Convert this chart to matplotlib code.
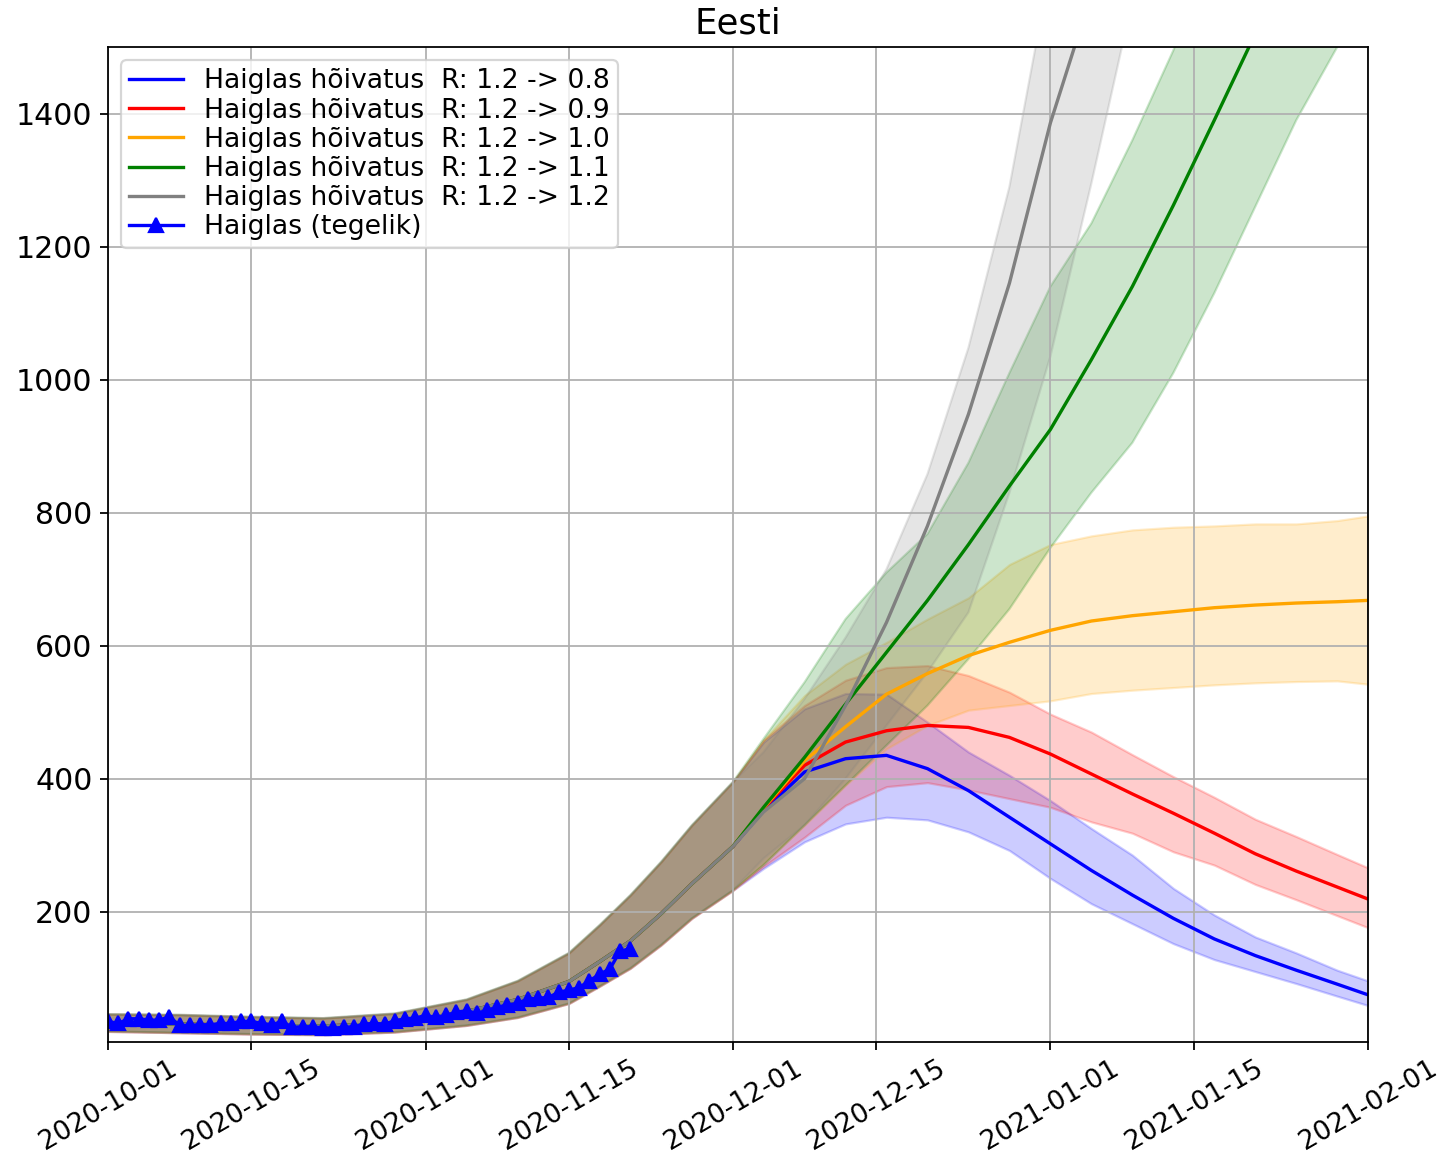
import matplotlib
matplotlib.use("Agg")
import matplotlib.pyplot as plt
import pandas as pd

# observed hospital occupancy, one value per day starting 2020-10-01
actual_start = "2020-10-01"
actual_values = [35, 32, 39, 39, 37, 37, 42, 29, 29, 30, 30, 32, 32, 35, 35, 32,
                 30, 35, 26, 27, 27, 25, 25, 26, 27, 31, 32, 31, 36, 39, 40, 44,
                 41, 44, 49, 51, 47, 52, 56, 60, 62, 69, 70, 71, 79, 82, 86, 96,
                 106, 114, 141, 144]

# shared model fit up to 2020-12-01 (all scenarios identical)
trunk_dates = ["2020-10-01", "2020-10-08", "2020-10-15", "2020-10-22", "2020-10-29",
               "2020-11-05", "2020-11-10", "2020-11-15", "2020-11-18", "2020-11-21",
               "2020-11-24", "2020-11-27", "2020-12-01"]
trunk_mid = [33, 31, 29, 28, 32, 50, 68, 95, 125, 156, 197, 242, 298]
trunk_lo = [20, 18, 16, 15, 19, 29, 41, 62, 88, 115, 150, 190, 232]
trunk_hi = [46, 45, 42, 40, 47, 68, 96, 138, 180, 225, 275, 330, 395]

# scenario projections after the split
proj_dates = ["2020-12-04", "2020-12-08", "2020-12-12", "2020-12-16", "2020-12-20",
              "2020-12-24", "2020-12-28", "2021-01-01", "2021-01-05", "2021-01-09",
              "2021-01-13", "2021-01-17", "2021-01-21", "2021-01-25", "2021-01-29",
              "2021-02-01"]

r08_mid = [352, 410, 430, 435, 415, 382, 342, 302, 262, 225, 190, 159, 134, 112, 91, 75]
r08_lo = [265, 305, 332, 342, 338, 320, 292, 250, 212, 182, 152, 128, 110, 92, 73, 59]
r08_hi = [455, 505, 528, 527, 485, 440, 405, 367, 325, 285, 235, 195, 162, 138, 112, 96]

r09_mid = [355, 420, 455, 472, 480, 477, 462, 437, 407, 377, 348, 318, 287, 261, 237, 219]
r09_lo = [268, 312, 360, 388, 394, 383, 370, 357, 335, 318, 290, 270, 241, 218, 194, 176]
r09_hi = [458, 510, 548, 567, 570, 555, 530, 497, 470, 436, 403, 372, 339, 313, 286, 266]

r10_mid = [356, 427, 478, 527, 558, 585, 605, 623, 637, 645, 651, 657, 661, 664, 666, 668]
r10_lo = [272, 330, 390, 445, 480, 503, 510, 517, 528, 533, 537, 541, 544, 546, 547, 542]
r10_hi = [458, 525, 572, 605, 640, 672, 722, 752, 765, 774, 778, 780, 783, 783, 788, 795]

r11_mid = [357, 432, 512, 590, 668, 752, 840, 925, 1030, 1140, 1262, 1390, 1520, 1680, 1850, 1990]
r11_lo = [270, 330, 390, 450, 510, 580, 655, 747, 830, 905, 1010, 1130, 1260, 1390, 1500, 1580]
r11_hi = [460, 545, 640, 710, 768, 875, 1010, 1140, 1235, 1360, 1495, 1640, 1800, 1970, 2150, 2290]

r12_mid = [350, 400, 510, 635, 780, 948, 1145, 1386, 1580, 1810, 2070, 2360, 2690, 3060, 3480, 3830]
r12_lo = [280, 330, 400, 480, 560, 650, 830, 1035, 1295, 1570, 1850, 2150, 2480, 2850, 3250, 3600]
r12_hi = [440, 520, 612, 715, 858, 1048, 1290, 1620, 1950, 2300, 2650, 3000, 3400, 3850, 4300, 4700]

scenario_labels = ["0.8", "0.9", "1.0", "1.1", "1.2"]
scenario_colors = ["blue", "red", "orange", "green", "gray"]
scenarios = [
    (r08_mid, r08_lo, r08_hi),
    (r09_mid, r09_lo, r09_hi),
    (r10_mid, r10_lo, r10_hi),
    (r11_mid, r11_lo, r11_hi),
    (r12_mid, r12_lo, r12_hi),
]


def main():
    dpi = 160
    fig = plt.figure(figsize=(1453 / dpi, 1163 / dpi), dpi=dpi)
    ax = fig.add_axes([0.0743, 0.104, 0.8672, 0.8556])

    dates = pd.to_datetime(trunk_dates + proj_dates)
    for (mid, lo, hi), r_end, color in zip(scenarios, scenario_labels, scenario_colors):
        ax.plot(dates, trunk_mid + mid, color=color, linewidth=1.5,
                label=f"Haiglas hõivatus  R: 1.2 -> {r_end}")
        ax.fill_between(dates, trunk_lo + lo, trunk_hi + hi, color=color, alpha=0.2)

    actual_dates = pd.date_range(actual_start, periods=len(actual_values), freq="D")
    ax.plot(actual_dates, actual_values, color="blue", marker="^", linewidth=1.5,
            label="Haiglas (tegelik)")

    ax.set_xlim(pd.Timestamp("2020-10-01"), pd.Timestamp("2021-02-01"))
    ax.set_ylim(4, 1500)
    ax.grid(True)
    ax.tick_params(axis="y", labelsize=13.5)
    ax.tick_params(axis="x", labelsize=12, pad=2.5)
    plt.setp(ax.get_xticklabels(), rotation=30)
    ax.set_title("Eesti", fontsize=16)
    ax.legend(loc="upper left", fontsize=12, labelspacing=0.12, borderpad=0.3)

    fig.savefig("out.png", dpi=dpi)


if __name__ == "__main__":
    main()
